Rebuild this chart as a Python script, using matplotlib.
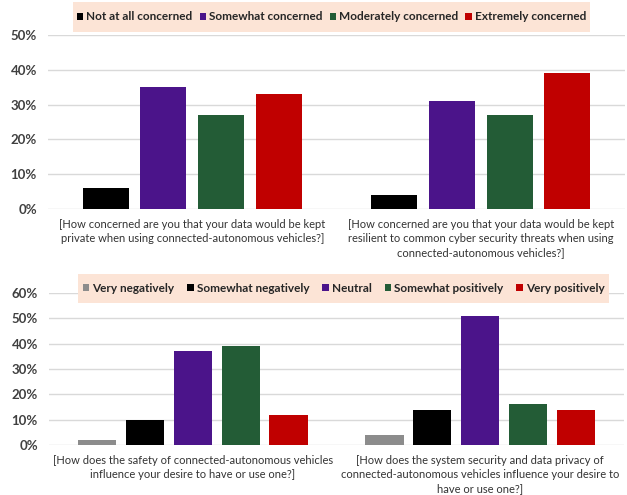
import numpy as np
import matplotlib
matplotlib.use("Agg")
import matplotlib.pyplot as plt
from matplotlib.patches import Rectangle
from matplotlib.ticker import PercentFormatter

plt.rcParams['font.family'] = ['Lato', 'DejaVu Sans']

# top chart data
top_questions = ["[How concerned are you that your data would be kept\nprivate when using connected-autonomous vehicles?]",
                 "[How concerned are you that your data would be kept\nresilient to common cyber security threats when using\nconnected-autonomous vehicles?]"]
top_labels = ["Not at all concerned", "Somewhat concerned", "Moderately concerned", "Extremely concerned"]
not_at_all = [6, 4]
somewhat = [35, 31]
moderately = [27, 27]
extremely = [33, 39]

# bottom chart data
bottom_questions = ["[How does the safety of connected-autonomous vehicles\ninfluence your desire to have or use one?]",
                    "[How does the system security and data privacy of\nconnected-autonomous vehicles influence your desire to\nhave or use one?]"]
bottom_labels = ["Very negatively", "Somewhat negatively", "Neutral", "Somewhat positively", "Very positively"]
very_neg = [2, 4]
somewhat_neg = [10, 14]
neutral = [37, 51]
somewhat_pos = [39, 16]
very_pos = [12, 14]

top_colors = ["#000000", "#4B148A", "#235C36", "#C00000"]
bottom_colors = ["#8C8C8C", "#000000", "#4B148A", "#235C36", "#C00000"]
legend_bg = "#FCE4D6"

W, H = 627, 495
fig = plt.figure(figsize=(W / 100, H / 100), dpi=100)


def draw_panel(ax, series, labels, colors, questions, ymax, step, width):
	x = np.arange(len(questions))
	n = len(series)
	for i in range(n):
		off = (i - (n - 1) / 2) * step
		ax.bar(x + off, series[i], width, color=colors[i], label=labels[i], zorder=3)
	ax.set_xlim(-0.5, len(questions) - 0.5)
	ax.set_ylim(0, ymax)
	ax.set_yticks(np.arange(0, ymax + 1, 10))
	ax.yaxis.set_major_formatter(PercentFormatter(decimals=0))
	ax.grid(axis='y', color='#D9D9D9', linewidth=1, zorder=0)
	for s in ax.spines.values():
		s.set_visible(False)
	ax.tick_params(axis='both', length=0)
	ax.tick_params(axis='y', pad=8, labelsize=9.5, labelcolor='#404040')
	for t in ax.get_yticklabels():
		t.set_fontweight('bold')
	ax.set_xticks(x)
	ax.set_xticklabels(questions, fontsize=8, color='#333333', linespacing=1.35, va='top')
	ax.tick_params(axis='x', pad=7)


def legend_box(ax, x0, y0, x1, y1, ncol, gap):
	# beige box in pixel coords measured from the top-left corner
	ax.add_patch(Rectangle((x0 / W, 1 - y1 / H), (x1 - x0) / W, (y1 - y0) / H,
	                       transform=fig.transFigure, facecolor=legend_bg,
	                       edgecolor='none', zorder=5, clip_on=False))
	leg = ax.legend(loc='center', bbox_to_anchor=((x0 + x1) / 2 / W, 1 - (y0 + y1) / 2 / H),
	                bbox_transform=fig.transFigure, ncol=ncol, frameon=False,
	                prop={'weight': 'bold', 'size': 8.5}, handlelength=0.55, handleheight=0.55,
	                handletextpad=0.25, columnspacing=gap, borderpad=0, labelcolor='#262626')
	leg.set_zorder(6)


ax1 = fig.add_axes([48 / W, 1 - 209 / H, 577 / W, 174 / H])
draw_panel(ax1, [not_at_all, somewhat, moderately, extremely], top_labels, top_colors,
           top_questions, 50, 0.2, 0.16)
legend_box(ax1, 73, 2, 590, 32, 4, 0.6)

ax2 = fig.add_axes([49 / W, 1 - 445 / H, 575 / W, 152 / H])
draw_panel(ax2, [very_neg, somewhat_neg, neutral, somewhat_pos, very_pos], bottom_labels, bottom_colors,
           bottom_questions, 60, 0.1667, 0.133)
legend_box(ax2, 78, 274, 609, 303, 5, 1.1)

fig.savefig("out.png", dpi=100)
